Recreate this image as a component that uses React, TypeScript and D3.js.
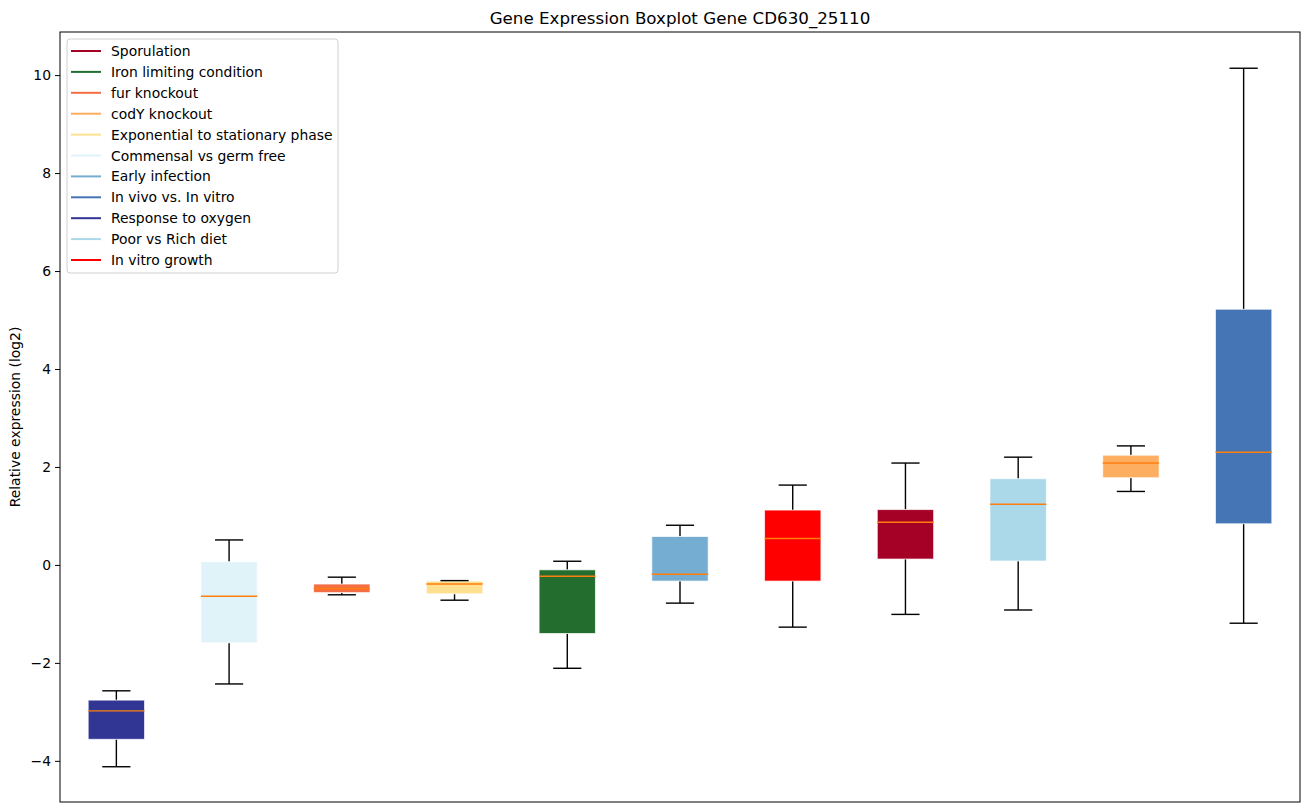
import React, { useEffect, useRef } from 'react';
import * as d3 from 'd3';

// legend order
const legendLabels = [
  'Sporulation',
  'Iron limiting condition',
  'fur knockout',
  'codY knockout',
  'Exponential to stationary phase',
  'Commensal vs germ free',
  'Early infection',
  'In vivo vs. In vitro',
  'Response to oxygen',
  'Poor vs Rich diet',
  'In vitro growth',
];
const legendColors = [
  '#a50026', '#236e2f', '#f46d43', '#fdae61', '#fee090', '#e0f3f8',
  '#74add1', '#4575b4', '#313695', '#abd9e9', '#ff0000',
];

// boxes, left to right
const boxOrder = [
  'Response to oxygen',
  'Commensal vs germ free',
  'fur knockout',
  'Exponential to stationary phase',
  'Iron limiting condition',
  'Early infection',
  'In vitro growth',
  'Sporulation',
  'Poor vs Rich diet',
  'codY knockout',
  'In vivo vs. In vitro',
];
const whiskerLow = [-4.12, -2.43, -0.61, -0.72, -2.11, -0.78, -1.27, -1.01, -0.92, 1.5, -1.19];
const q1 = [-3.56, -1.59, -0.565, -0.59, -1.4, -0.33, -0.33, 0.12, 0.08, 1.78, 0.84];
const median = [-2.98, -0.64, -0.48, -0.39, -0.23, -0.19, 0.54, 0.87, 1.24, 2.08, 2.3];
const q3 = [-2.76, 0.065, -0.39, -0.33, -0.1, 0.58, 1.12, 1.13, 1.76, 2.24, 5.22];
const whiskerHigh = [-2.57, 0.51, -0.25, -0.32, 0.075, 0.81, 1.63, 2.08, 2.2, 2.43, 10.14];

const yTicks = [-4, -2, 0, 2, 4, 6, 8, 10];

const App: React.FC = () => {
  const svgRef = useRef<SVGSVGElement>(null);
  const width = 1309;
  const height = 812;

  useEffect(() => {
    document.body.style.margin = '0';
    if (!svgRef.current) return;
    const svg = d3.select(svgRef.current);
    svg.selectAll('*').remove();

    const margin = { top: 32, right: 9, bottom: 10, left: 60 };
    const innerWidth = width - margin.left - margin.right;
    const innerHeight = height - margin.top - margin.bottom;
    const font = 'DejaVu Sans, sans-serif';

    const g = svg.append('g')
      .attr('transform', `translate(${margin.left},${margin.top})`);

    const x = d3.scaleLinear().domain([0.5, boxOrder.length + 0.5]).range([0, innerWidth]);
    const y = d3.scaleLinear().domain([-4.84, 10.88]).range([innerHeight, 0]);

    const colorOf = (name: string) => legendColors[legendLabels.indexOf(name)];
    const boxW = x(1.25) - x(1);
    const capW = x(1.125) - x(1);

    boxOrder.forEach((name, i) => {
      const cx = x(i + 1);
      const grp = g.append('g');

      // whiskers
      grp.append('line')
        .attr('x1', cx).attr('x2', cx)
        .attr('y1', y(q3[i])).attr('y2', y(whiskerHigh[i]))
        .attr('stroke', '#000').attr('stroke-width', 1.4);
      grp.append('line')
        .attr('x1', cx).attr('x2', cx)
        .attr('y1', y(q1[i])).attr('y2', y(whiskerLow[i]))
        .attr('stroke', '#000').attr('stroke-width', 1.4);

      // box
      grp.append('rect')
        .attr('x', cx - boxW)
        .attr('width', boxW * 2)
        .attr('y', y(q3[i]))
        .attr('height', y(q1[i]) - y(q3[i]))
        .attr('fill', colorOf(name))
        .attr('stroke', 'rgba(255,255,255,0.7)')
        .attr('stroke-width', 1);

      // caps
      [whiskerHigh[i], whiskerLow[i]].forEach(v => {
        grp.append('line')
          .attr('x1', cx - capW).attr('x2', cx + capW)
          .attr('y1', y(v)).attr('y2', y(v))
          .attr('stroke', '#000').attr('stroke-width', 1.4);
      });

      // median
      grp.append('line')
        .attr('x1', cx - boxW).attr('x2', cx + boxW)
        .attr('y1', y(median[i])).attr('y2', y(median[i]))
        .attr('stroke', '#ff7f0e').attr('stroke-width', 1.4);
    });

    // frame
    g.append('rect')
      .attr('width', innerWidth).attr('height', innerHeight)
      .attr('fill', 'none').attr('stroke', '#000').attr('stroke-width', 1);

    // Y axis
    const yAxis = g.append('g')
      .call(d3.axisLeft(y).tickValues(yTicks).tickSize(5).tickPadding(4)
        .tickFormat(d => {
          const n = d as number;
          return n < 0 ? `\u2212${Math.abs(n)}` : `${n}`;
        }));
    yAxis.select('.domain').remove();
    yAxis.selectAll('text')
      .style('font-family', font)
      .style('font-size', '13.9px')
      .style('fill', '#000');
    yAxis.selectAll('line').attr('stroke', '#000');

    svg.append('text')
      .attr('transform', `translate(20,${margin.top + innerHeight / 2}) rotate(-90)`)
      .style('text-anchor', 'middle')
      .style('font-family', font)
      .style('font-size', '13.9px')
      .text('Relative expression (log2)');

    // Title
    svg.append('text')
      .attr('x', margin.left + innerWidth / 2)
      .attr('y', 24)
      .style('text-anchor', 'middle')
      .style('font-family', font)
      .style('font-size', '16.7px')
      .text('Gene Expression Boxplot Gene CD630_25110');

    // Legend
    const legend = g.append('g').attr('transform', 'translate(7,7)');
    legend.append('rect')
      .attr('width', 271).attr('height', 234)
      .attr('rx', 3)
      .attr('fill', 'rgba(255,255,255,0.8)')
      .attr('stroke', '#d0d0d0');
    legendLabels.forEach((label, i) => {
      const row = legend.append('g').attr('transform', `translate(0,${12 + i * 20.9})`);
      row.append('line')
        .attr('x1', 4).attr('x2', 34)
        .attr('stroke', legendColors[i]).attr('stroke-width', 2);
      row.append('text')
        .attr('x', 44).attr('y', 5)
        .style('font-family', font)
        .style('font-size', '13.9px')
        .text(label);
    });
  }, []);

  return <svg ref={svgRef} width={width} height={height} style={{ display: 'block', background: '#fff' }} />;
};

export default App;
